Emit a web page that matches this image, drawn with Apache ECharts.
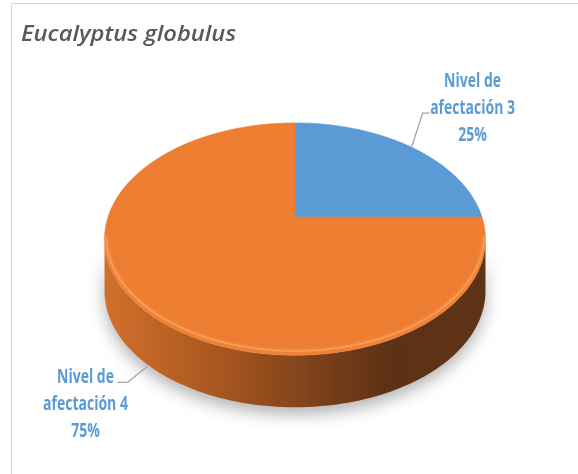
<!DOCTYPE html>
<html>
<head>
<meta charset="utf-8">
<script src="https://cdn.jsdelivr.net/npm/echarts@6/dist/echarts.min.js"></script>
<style>
  html, body { margin: 0; padding: 0; background: #ffffff; }
  #chart { width: 578px; height: 474px; }
</style>
</head>
<body>
<div id="chart"></div>
<script>
// Slice names and their shares
const categories = ['Nivel de\nafectación 3', 'Nivel de\nafectación 4'];
const values = [25, 75];
const titleText = 'Eucalyptus globulus';

// Colours of the top faces and the side walls
const topColors = ['#5B9BD5', '#ED7D31'];
const sideStops = [
  [{ offset: 0, color: '#3F6E9A' }, { offset: 1, color: '#24415E' }],
  [
    { offset: 0.00, color: '#D2702C' },
    { offset: 0.30, color: '#A8571F' },
    { offset: 0.55, color: '#7C411A' },
    { offset: 0.75, color: '#5D3115' },
    { offset: 1.00, color: '#5F3316' }
  ]
];

// Tilted-disc geometry (perspective pie)
const geo = { cx: 295, cy: 217, A: 187, B: 112, k: 0.19, depth: 52 };

const total = values.reduce((a, b) => a + b, 0);
const starts = [];
values.reduce((acc, v, i) => { starts[i] = acc; return acc + v; }, 0);

// Project an angle (clockwise from 12 o'clock) on the disc rim
function proj(theta, dy, r) {
  r = r == null ? 1 : r;
  const u = Math.sin(theta) * r, v = Math.cos(theta) * r;
  const w = 1 + geo.k * v;
  return [geo.cx + geo.A * u / w, geo.cy - geo.B * v / w + (dy || 0)];
}

function arc(a0, a1, dy, r) {
  const n = Math.max(2, Math.ceil(Math.abs(a1 - a0) / (Math.PI / 120)));
  const pts = [];
  for (let i = 0; i <= n; i++) pts.push(proj(a0 + (a1 - a0) * i / n, dy, r));
  return pts;
}

// Part of the rim that faces the viewer
const frontA = Math.acos(-geo.k);
const frontB = 2 * Math.PI - frontA;
const wMax = geo.A / Math.sqrt(1 - geo.k * geo.k);

function renderSlice(params, api) {
  const i = params.dataIndex;
  const val = api.value(0);
  const s = starts[i] / total * Math.PI * 2;
  const e = s + val / total * Math.PI * 2;
  const children = [];

  // side wall
  const ws = Math.max(s, frontA), we = Math.min(e, frontB);
  if (we > ws) {
    const top = arc(ws, we, 0);
    const bot = arc(we, ws, geo.depth);
    children.push({
      type: 'polygon',
      z2: 1,
      shape: { points: top.concat(bot) },
      style: {
        fill: new echarts.graphic.LinearGradient(geo.cx - wMax, 0, geo.cx + wMax, 0, sideStops[i], true),
        shadowBlur: 16,
        shadowOffsetY: 7,
        shadowColor: 'rgba(0,0,0,0.30)'
      }
    });
  }

  // top face
  const face = [[geo.cx, geo.cy]].concat(arc(s, e, 0));
  children.push({
    type: 'polygon',
    z2: 10,
    shape: { points: face },
    style: { fill: topColors[i], stroke: topColors[i], lineWidth: 0.5 }
  });

  // soft bevel light along the front rim
  if (we > ws) {
    children.push({
      type: 'polyline',
      z2: 11,
      shape: { points: arc(ws, we, -3, 0.992) },
      style: { stroke: 'rgba(255,170,100,0.6)', lineWidth: 2, fill: null, shadowBlur: 4, shadowColor: 'rgba(255,180,120,0.8)' }
    });
  }

  // label with leader line
  const mid = (s + e) / 2;
  const front = Math.cos(mid) < -geo.k;
  const right = Math.sin(mid) > 0;
  let p0, p1, p2, tx, ty;
  if (right) {
    p0 = proj(mid, 0, 1.0);
    p1 = [p0[0] + 11, p0[1] - 34];
    p2 = [p1[0] + 7, p1[1]];
    tx = p2[0] + 43; ty = p2[1] - 5;
  } else {
    p0 = proj(mid, front ? geo.depth + 9 : 0, 0.97);
    p1 = [p0[0] - 20, p0[1] + 16];
    p2 = [p1[0] - 10, p1[1]];
    tx = p2[0] - 32; ty = p2[1] + 22;
  }
  children.push({
    type: 'polyline',
    z2: 20,
    shape: { points: [p0, p1, p2] },
    style: { stroke: '#A6A6A6', lineWidth: 1.3, fill: null }
  });
  const pct = Math.round(val / total * 100);
  children.push({
    type: 'text',
    z2: 21,
    x: tx, y: ty,
    scaleX: 0.7,
    style: {
      text: categories[i] + '\n' + pct + '%',
      fill: '#5B9BD5',
      fontFamily: 'Open Sans',
      fontWeight: 'bold',
      fontSize: 20,
      lineHeight: 27,
      align: 'center', verticalAlign: 'middle',
      textAlign: 'center', textVerticalAlign: 'middle'
    }
  });

  return { type: 'group', children: children };
}

const chart = echarts.init(document.getElementById('chart'), null, { renderer: 'canvas' });
chart.setOption({
  animation: false,
  backgroundColor: '#ffffff',
  graphic: [
    {
      type: 'polyline',
      shape: { points: [[11.5, 474], [11.5, 3.5], [578, 3.5]] },
      style: { stroke: '#D6D6D6', lineWidth: 1, fill: null },
      silent: true
    },
    {
      type: 'text',
      x: 21, y: 35,
      scaleX: 1.13,
      style: {
        text: titleText,
        fill: '#595959',
        fontFamily: 'Open Sans',
        fontStyle: 'italic',
        fontWeight: 600,
        fontSize: 21,
        align: 'left', verticalAlign: 'middle',
        textAlign: 'left', textVerticalAlign: 'middle'
      }
    }
  ],
  series: [{
    type: 'custom',
    coordinateSystem: 'none',
    renderItem: renderSlice,
    data: values
  }]
});
</script>
</body>
</html>
